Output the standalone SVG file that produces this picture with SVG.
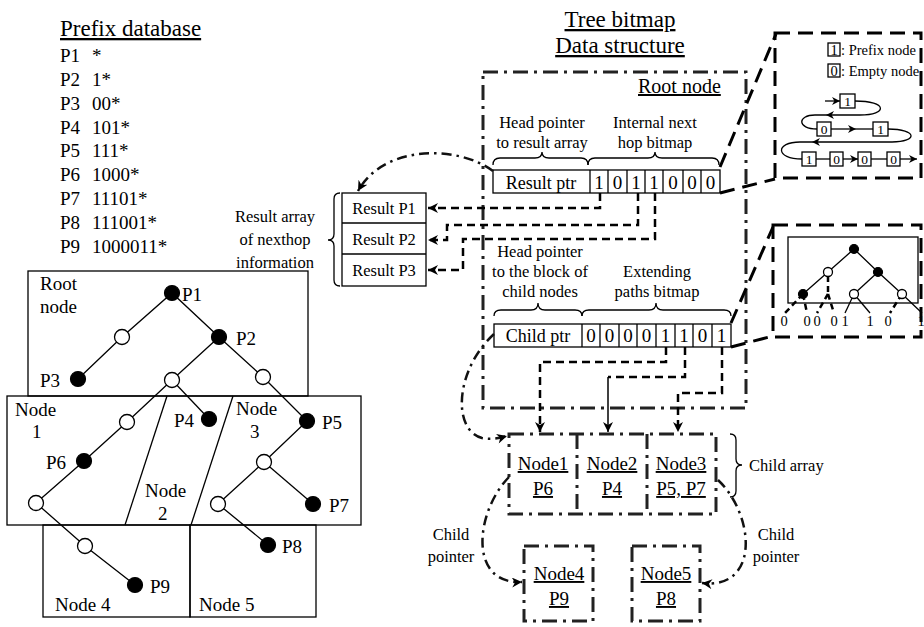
<svg xmlns="http://www.w3.org/2000/svg" width="924" height="627" viewBox="0 0 924 627">
<defs>
  <style>
    text { font-family: "Liberation Serif", "Times New Roman", serif; fill: #000; }
    .t19 { font-size: 19px; }
    .t17 { font-size: 16.5px; }
    .t23 { font-size: 23px; }
    .t13 { font-size: 13.5px; }
    .t14 { font-size: 14.5px; }
    .mid { text-anchor: middle; }
    .ul { text-decoration: underline; }
    .thin { stroke: #000; stroke-width: 1.3; fill: none; }
    .cell { stroke: #000; stroke-width: 1.3; fill: #fff; }
    .dd { stroke: #222; stroke-width: 3; fill: none; stroke-dasharray: 15 6 3 6; }
    .ddc { stroke: #111; stroke-width: 2.5; fill: none; stroke-dasharray: 10 5 2.5 5; }
    .dash { stroke: #000; stroke-width: 2.5; fill: none; stroke-dasharray: 8 5; }
    .ldash { stroke: #000; stroke-width: 3; fill: none; stroke-dasharray: 15 8; }
    .tdash { stroke: #000; stroke-width: 2.5; fill: none; stroke-dasharray: 6 4; }
    .full { fill: #000; stroke: #000; stroke-width: 1.2; }
    .open { fill: #fff; stroke: #000; stroke-width: 1.3; }
  </style>
  <marker id="ah" viewBox="0 0 10 10" refX="10" refY="5" markerWidth="12" markerHeight="10" markerUnits="userSpaceOnUse" orient="auto">
    <path d="M0,0 L10,5 L0,10 L3,5 z" fill="#000"/>
  </marker>
  <marker id="ahs" viewBox="0 0 10 10" refX="10" refY="5" markerWidth="10" markerHeight="8" markerUnits="userSpaceOnUse" orient="auto">
    <path d="M0,0 L10,5 L0,10 L3,5 z" fill="#000"/>
  </marker>
</defs>
<rect width="924" height="627" fill="#fff"/>

<!-- Prefix table -->
<g id="prefix-database">
  <text class="t23 ul" x="60" y="36">Prefix database</text>
  <g class="t19">
    <text x="60" y="62">P1</text><text x="92" y="62">*</text>
    <text x="60" y="86">P2</text><text x="92" y="86">1*</text>
    <text x="60" y="110">P3</text><text x="92" y="110">00*</text>
    <text x="60" y="134">P4</text><text x="92" y="134">101*</text>
    <text x="60" y="157">P5</text><text x="92" y="157">111*</text>
    <text x="60" y="181">P6</text><text x="92" y="181">1000*</text>
    <text x="60" y="205">P7</text><text x="92" y="205">11101*</text>
    <text x="60" y="229">P8</text><text x="92" y="229">111001*</text>
    <text x="60" y="253">P9</text><text x="92" y="253">1000011*</text>
  </g>
</g>

<!-- Binary trie split into tree-bitmap nodes -->
<g id="trie-partition">
  <rect class="thin" x="28" y="271" width="280" height="125"/>
  <rect class="thin" x="7" y="396" width="354" height="129"/>
  <rect class="thin" x="43" y="525" width="147" height="92"/>
  <rect class="thin" x="190" y="525" width="126" height="92"/>
  <line class="thin" x1="167" y1="396" x2="125" y2="525"/>
  <line class="thin" x1="233" y1="396" x2="191" y2="525"/>
  <g class="t19">
    <text x="40" y="290">Root</text><text x="40" y="313">node</text>
    <text x="15" y="416">Node</text><text x="32" y="438">1</text>
    <text x="145" y="497">Node</text><text x="158" y="520">2</text>
    <text x="236" y="415">Node</text><text x="250" y="438">3</text>
    <text x="55" y="611">Node 4</text>
    <text x="199" y="611">Node 5</text>
  </g>
</g>

<g id="trie-edges" class="thin">
  <polyline points="78,379 122,337 172,293 219,337 263,377 307,421 264,462 218,504 268,545"/>
  <line x1="264" y1="462" x2="313" y2="504"/>
  <polyline points="219,337 172,380 127,422 84,461 36,503 85,546 135,585"/>
  <line x1="172" y1="380" x2="209" y2="419"/>
</g>

<g id="trie-nodes">
  <circle class="full" cx="172" cy="293" r="7.5"/>
  <circle class="open" cx="122" cy="337" r="7.5"/>
  <circle class="full" cx="219" cy="337" r="7.5"/>
  <circle class="full" cx="78" cy="379" r="7.5"/>
  <circle class="open" cx="172" cy="380" r="7.5"/>
  <circle class="open" cx="263" cy="377" r="7.5"/>
  <circle class="open" cx="127" cy="422" r="7.5"/>
  <circle class="full" cx="209" cy="419" r="7.5"/>
  <circle class="full" cx="307" cy="421" r="7.5"/>
  <circle class="full" cx="84" cy="461" r="7.5"/>
  <circle class="open" cx="264" cy="462" r="7.5"/>
  <circle class="open" cx="36" cy="503" r="7.5"/>
  <circle class="open" cx="218" cy="504" r="7.5"/>
  <circle class="full" cx="313" cy="504" r="7.5"/>
  <circle class="open" cx="85" cy="546" r="7.5"/>
  <circle class="full" cx="268" cy="545" r="7.5"/>
  <circle class="full" cx="135" cy="585" r="7.5"/>
  <g class="t19">
    <text x="182" y="301">P1</text>
    <text x="236" y="345">P2</text>
    <text x="40" y="387">P3</text>
    <text x="174" y="427">P4</text>
    <text x="322" y="429">P5</text>
    <text x="46" y="469">P6</text>
    <text x="329" y="512">P7</text>
    <text x="282" y="553">P8</text>
    <text x="150" y="593">P9</text>
  </g>
</g>

<!-- Result array -->
<g id="result-array">
  <rect class="cell" x="342" y="193" width="84" height="93"/>
  <line class="thin" x1="342" y1="223" x2="426" y2="223"/>
  <line class="thin" x1="342" y1="254" x2="426" y2="254"/>
  <g class="t17 mid">
    <text x="384" y="214">Result P1</text>
    <text x="384" y="245">Result P2</text>
    <text x="384" y="276">Result P3</text>
  </g>
  <path class="thin" d="M340 193 q-6 0 -6 6 V234 q0 6 -6 6 q6 0 6 6 V280 q0 6 6 6"/>
  <g class="t17 mid">
    <text x="275" y="222">Result array</text>
    <text x="275" y="245">of nexthop</text>
    <text x="275" y="268">information</text>
  </g>
</g>

<!-- Tree bitmap root node -->
<g id="tree-bitmap-title">
  <text class="t23 mid ul" x="620" y="27">Tree bitmap</text>
  <text class="t23 mid ul" x="620" y="53">Data structure</text>
</g>

<g id="root-node">
  <rect class="dd" x="483" y="72" width="263" height="336"/>
  <text class="ul" x="638" y="93" style="font-size:20px">Root node</text>
  <g class="t17 mid">
    <text x="542" y="128">Head pointer</text>
    <text x="542" y="148">to result array</text>
    <text x="655" y="128">Internal next</text>
    <text x="655" y="148">hop bitmap</text>
  </g>
  <path class="thin" d="M493 165 q0 -7 7 -7 H535 q7 0 7 -6 q0 6 7 6 H581 q7 0 7 7"/>
  <path class="thin" d="M588 165 q0 -7 7 -7 H648 q7 0 7 -6 q0 6 7 6 H712 q7 0 7 7"/>
  <!-- result pointer + internal bitmap -->
  <rect class="cell" x="493" y="170" width="227" height="23"/>
  <g class="thin">
    <line x1="590" y1="170" x2="590" y2="193"/>
    <line x1="608" y1="170" x2="608" y2="193"/>
    <line x1="627" y1="170" x2="627" y2="193"/>
    <line x1="645" y1="170" x2="645" y2="193"/>
    <line x1="663" y1="170" x2="663" y2="193"/>
    <line x1="683" y1="170" x2="683" y2="193"/>
    <line x1="701" y1="170" x2="701" y2="193"/>
  </g>
  <g class="t19 mid">
    <text x="541" y="189" style="font-size:18px">Result ptr</text>
    <text x="599" y="189">1</text>
    <text x="617.5" y="189">0</text>
    <text x="636" y="189">1</text>
    <text x="654" y="189">1</text>
    <text x="673" y="189">0</text>
    <text x="692" y="189">0</text>
    <text x="710.5" y="189">0</text>
  </g>
  <g class="t17 mid">
    <text x="540" y="257">Head pointer</text>
    <text x="540" y="277">to the block of</text>
    <text x="540" y="297">child nodes</text>
    <text x="657" y="277">Extending</text>
    <text x="657" y="297">paths bitmap</text>
  </g>
  <path class="thin" d="M494 316 q0 -6 7 -6 H531 q7 0 7 -7 q0 7 7 7 H575 q7 0 7 6"/>
  <path class="thin" d="M582 316 q0 -6 7 -6 H649 q7 0 7 -7 q0 7 7 7 H724 q7 0 7 6"/>
  <!-- child pointer + extending paths bitmap -->
  <rect class="cell" x="494" y="324" width="237" height="23"/>
  <g class="thin">
    <line x1="582" y1="324" x2="582" y2="347"/>
    <line x1="600" y1="324" x2="600" y2="347"/>
    <line x1="619" y1="324" x2="619" y2="347"/>
    <line x1="637" y1="324" x2="637" y2="347"/>
    <line x1="656" y1="324" x2="656" y2="347"/>
    <line x1="675" y1="324" x2="675" y2="347"/>
    <line x1="693" y1="324" x2="693" y2="347"/>
    <line x1="712" y1="324" x2="712" y2="347"/>
  </g>
  <g class="t19 mid">
    <text x="538" y="342" style="font-size:18px">Child ptr</text>
    <text x="591" y="342">0</text>
    <text x="609.5" y="342">0</text>
    <text x="628" y="342">0</text>
    <text x="646.5" y="342">0</text>
    <text x="665.5" y="342">1</text>
    <text x="684" y="342">1</text>
    <text x="702.5" y="342">0</text>
    <text x="721.5" y="342">1</text>
  </g>
</g>

<!-- Legend: prefix-node traversal order -->
<g id="bitmap-legend">
  <rect class="ldash" x="775" y="33" width="146" height="145"/>
  <rect class="cell" x="828" y="43" width="12" height="13"/>
  <rect class="cell" x="828" y="64" width="12" height="13"/>
  <g class="t14">
    <text x="834" y="54.5" class="mid">1</text>
    <text x="834" y="75.5" class="mid">0</text>
    <text x="841" y="54.5">: Prefix node</text>
    <text x="841" y="75.5">: Empty node</text>
  </g>
  <g class="thin">
    <path d="M825 101 L840 101" marker-end="url(#ahs)"/>
    <path d="M855 101 C888 101 888 115 860 115 L826 115" marker-end="url(#ahs)"/>
    <path d="M826 115 L815 115 C797 115 797 129 817 129"/>
    <path d="M831 129 L856 129" marker-end="url(#ahs)"/>
    <path d="M856 129 L873 129"/>
    <path d="M888 129 C918 129 918 142 892 142 L812 142" marker-end="url(#ahs)"/>
    <path d="M812 142 L800 142 C775 142 775 159 802 159"/>
    <path d="M816 159 L830 159"/>
    <path d="M843 159 L858 159" marker-end="url(#ahs)"/>
    <path d="M871 159 L887 159"/>
    <path d="M900 159 L917 159" marker-end="url(#ahs)"/>
  </g>
  <rect class="cell" x="840" y="94" width="15" height="14"/>
  <rect class="cell" x="817" y="122" width="14" height="14"/>
  <rect class="cell" x="873" y="122" width="15" height="14"/>
  <rect class="cell" x="802" y="152" width="14" height="14"/>
  <rect class="cell" x="830" y="152" width="13" height="14"/>
  <rect class="cell" x="858" y="152" width="13" height="14"/>
  <rect class="cell" x="887" y="152" width="13" height="14"/>
  <g class="t13 mid">
    <text x="847.5" y="106">1</text>
    <text x="824" y="134">0</text>
    <text x="880.5" y="134">1</text>
    <text x="809" y="164">1</text>
    <text x="836.5" y="164">0</text>
    <text x="864.5" y="164">0</text>
    <text x="893.5" y="164">0</text>
  </g>
</g>

<!-- Root node sub-trie with its extending paths -->
<g id="root-subtrie">
  <rect class="ldash" x="773" y="225" width="148" height="112"/>
  <rect class="thin" x="788" y="237" width="130" height="66"/>
  <g class="thin">
    <polyline points="803,294 828,272 854,249 878,272 902,294 922,313"/>
    <line x1="878" y1="272" x2="854" y2="294"/>
    <line x1="854" y1="294" x2="845" y2="313"/>
    <line x1="854" y1="294" x2="870" y2="313"/>
  </g>
  <g class="tdash">
    <line x1="828" y1="276" x2="828" y2="294"/>
    <line x1="828" y1="294" x2="817" y2="313"/>
    <line x1="828" y1="294" x2="834" y2="313"/>
    <line x1="803" y1="294" x2="785" y2="313"/>
    <line x1="803" y1="294" x2="807" y2="313"/>
    <line x1="902" y1="294" x2="890" y2="313"/>
  </g>
  <circle class="full" cx="854" cy="249" r="4.5"/>
  <circle class="open" cx="828" cy="272" r="4.5"/>
  <circle class="full" cx="878" cy="272" r="4.5"/>
  <circle class="full" cx="803" cy="294" r="4.5"/>
  <circle class="open" cx="854" cy="294" r="4.5"/>
  <circle class="open" cx="902" cy="294" r="4.5"/>
  <g class="t14 mid">
    <text x="784" y="326">0</text>
    <text x="807" y="326">0</text>
    <text x="817" y="326">0</text>
    <text x="834" y="326">0</text>
    <text x="845" y="326">1</text>
    <text x="870" y="326">1</text>
    <text x="888" y="326">0</text>
    <text x="921" y="326">1</text>
  </g>
</g>

<!-- Child array -->
<g id="child-array">
  <rect class="dd" x="509" y="434" width="207" height="80"/>
  <line class="dd" x1="577" y1="434" x2="577" y2="514"/>
  <line class="dd" x1="647" y1="434" x2="647" y2="514"/>
  <g class="t19 mid ul">
    <text x="543" y="470">Node1</text>
    <text x="543" y="495">P6</text>
    <text x="612" y="470">Node2</text>
    <text x="612" y="495">P4</text>
    <text x="681" y="470">Node3</text>
    <text x="681" y="495">P5, P7</text>
  </g>
  <path class="thin" d="M730 434 q6 0 6 6 V459 q0 6 6 6 q-6 0 -6 6 V491 q0 6 -6 6"/>
  <text class="t17" x="749" y="471">Child array</text>
</g>

<g id="node4">
  <rect class="dd" x="524" y="546" width="69" height="75"/>
  <text class="t19 mid ul" x="559" y="580">Node4</text>
  <text class="t19 mid ul" x="559" y="605">P9</text>
</g>

<g id="node5">
  <rect class="dd" x="632" y="546" width="68" height="75"/>
  <text class="t19 mid ul" x="666" y="580">Node5</text>
  <text class="t19 mid ul" x="666" y="605">P8</text>
</g>

<g id="child-pointer-labels" class="t17 mid">
  <text x="451" y="540">Child</text>
  <text x="451" y="562">pointer</text>
  <text x="776" y="540">Child</text>
  <text x="776" y="562">pointer</text>
</g>

<!-- Connectors -->
<g id="connectors">
  <!-- zoom-in guides -->
  <line class="ldash" x1="720" y1="167" x2="776" y2="34"/>
  <line class="ldash" x1="720" y1="193" x2="775" y2="179"/>
  <line class="ldash" x1="731" y1="323" x2="773" y2="227"/>
  <line class="ldash" x1="731" y1="347" x2="773" y2="336"/>
  <!-- result pointer -->
  <path class="ddc" d="M493 171 C460 146 385 143 358 191" marker-end="url(#ah)"/>
  <!-- internal bitmap to results -->
  <path class="dash" d="M600 193 V208 H428" marker-end="url(#ah)"/>
  <path class="dash" d="M638 193 V225 H447 V240 H428" marker-end="url(#ah)"/>
  <path class="dash" d="M655 193 V239 H463 V270 H428" marker-end="url(#ah)"/>
  <!-- extending paths to children -->
  <path class="dash" d="M666 347 V362 H540 V432" marker-end="url(#ah)"/>
  <path class="dash" d="M685 347 V377 H608"/>
  <path class="thin" style="stroke-width:1.5" d="M608 377 V432" marker-end="url(#ah)"/>
  <path class="dash" d="M722 347 V393 H678 V432" marker-end="url(#ah)"/>
  <!-- child pointers -->
  <path class="ddc" d="M494 334 C455 370 452 430 482 438 C492 440 500 438 507 436" marker-end="url(#ah)"/>
  <path class="ddc" d="M509 477 C475 512 468 585 522 582" marker-end="url(#ah)"/>
  <path class="ddc" d="M718 480 C755 515 760 590 702 583" marker-end="url(#ah)"/>
</g>
</svg>
